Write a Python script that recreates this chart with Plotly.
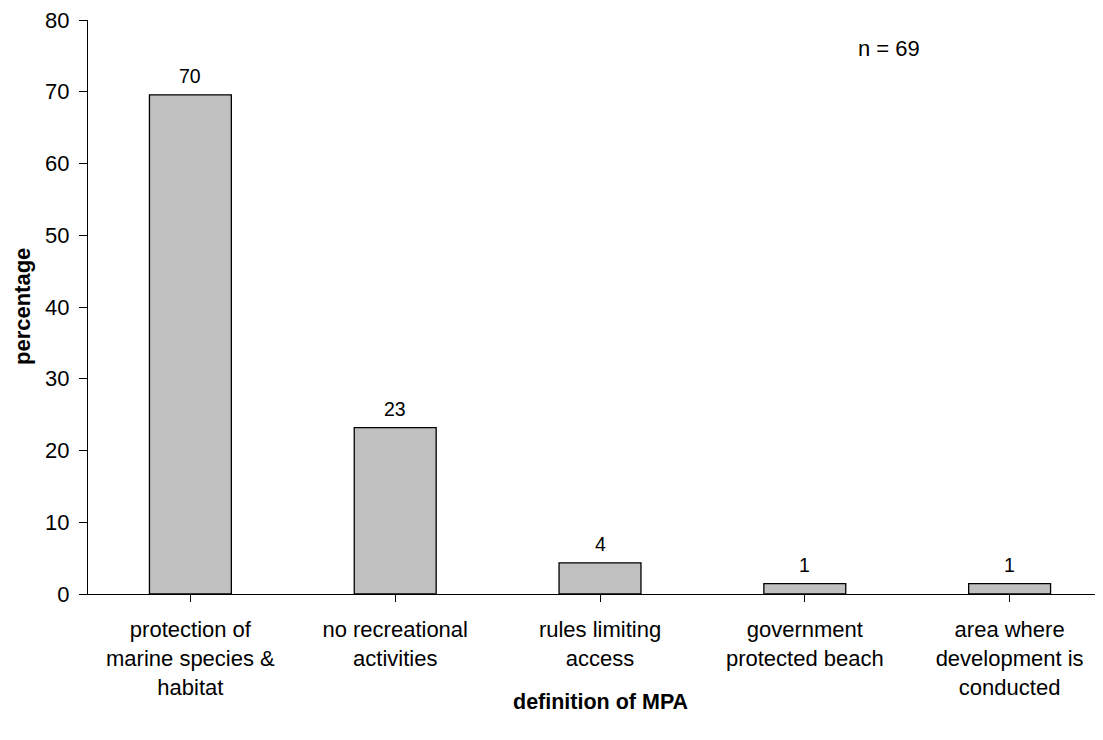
import plotly.graph_objects as go

categories = [
    "protection of<br>marine species &<br>habitat",
    "no recreational<br>activities",
    "rules limiting<br>access",
    "government<br>protected beach",
    "area where<br>development is<br>conducted",
]
percentages = [69.57, 23.19, 4.35, 1.45, 1.45]
bar_labels = ["70", "23", "4", "1", "1"]
y_ticks = [0, 10, 20, 30, 40, 50, 60, 70, 80]
n_label = "n = 69"

FONT = "Liberation Sans, Arial, sans-serif"

fig = go.Figure()
fig.add_trace(go.Bar(
    x=list(range(len(categories))),
    y=percentages,
    width=0.4,
    marker=dict(color="#c0c0c0", line=dict(color="black", width=1.3)),
    hoverinfo="skip",
))

for i, (v, t) in enumerate(zip(percentages, bar_labels)):
    fig.add_annotation(x=i, y=v, xref="x", yref="y", text=t, showarrow=False,
                       xanchor="center", yanchor="bottom", yshift=6,
                       font=dict(family=FONT, size=19.5, color="black"))

fig.add_annotation(x=0.789, xref="paper", y=76, yref="y", text=n_label,
                   showarrow=False, xanchor="center", yanchor="middle",
                   font=dict(family=FONT, size=22, color="black"))

fig.add_annotation(x=2, xref="x", y=-0.1887, yref="paper", text="<b>definition of MPA</b>",
                   showarrow=False, xanchor="center", yanchor="middle",
                   font=dict(family=FONT, size=21.5, color="black"))
fig.add_annotation(x=-0.065, xref="paper", y=0.5, yref="paper", text="<b>percentage</b>",
                   showarrow=False, textangle=-90, xanchor="center", yanchor="middle",
                   font=dict(family=FONT, size=22, color="black"))

# page body has an 8px default margin; compensate so the plot sits where the reference has it
fig.update_layout(
    width=1095, height=732,
    margin=dict(l=80, r=0, t=11.5, b=145.5),
    paper_bgcolor="white", plot_bgcolor="white",
    showlegend=False,
    font=dict(family=FONT, color="black"),
    bargap=0.6,
)
fig.update_xaxes(
    range=[-0.5, 4.456],
    tickmode="array", tickvals=list(range(len(categories))), ticktext=categories,
    tickson="boundaries", ticks="outside", ticklen=7, tickcolor="black",
    showline=True, linecolor="black", linewidth=1,
    showgrid=False, zeroline=False,
    tickfont=dict(family=FONT, size=22, color="black"),
    tickangle=0, ticklabelstandoff=9,
)
fig.update_yaxes(
    range=[0, 80.001], tickmode="array", tickvals=y_ticks,
    ticks="outside", ticklen=8, tickcolor="black",
    showline=True, linecolor="black", linewidth=1,
    showgrid=False, zeroline=False,
    tickfont=dict(family=FONT, size=22, color="black"),
    ticklabelstandoff=5, ticklabeloverflow="allow",
)

fig.write_html("out.html")
